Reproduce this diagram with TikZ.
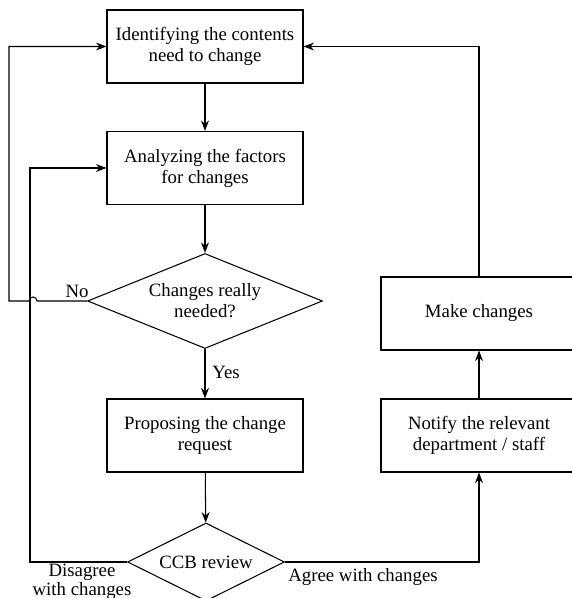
\documentclass[tikz,border=0pt]{standalone}
\usepackage{fontspec}
\setmainfont{Liberation Serif}
\usetikzlibrary{shapes.geometric, arrows.meta}
\tikzset{>={Stealth[length=6pt, width=4.5pt]}}
\tikzset{
    box/.style={draw, minimum width=3.92cm, minimum height=1.46cm, align=center, inner sep=0pt},
    decision/.style={draw, diamond, aspect=2.4, align=center, inner sep=0pt}
}

\begin{document}
\begin{tikzpicture}[x=0.02cm, y=0.02cm, line width=0.6pt, font=\fontsize{10.7}{12}\selectfont]
    \useasboundingbox (0,0) rectangle (571,598);
    % main column
    \node[box] (ident) at (205,551.5) {Identifying the contents\\need to change};
    \node[box] (analyze) at (205,430) {Analyzing the factors\\for changes};
    \node[decision, minimum width=4.7cm, minimum height=1.9cm] (needed) at (205,297) {Changes really\\needed?};
    \node[box] (propose) at (205,162.5) {Proposing the change\\request};
    \node[decision, minimum width=3.14cm, minimum height=1.56cm] (ccb) at (206,36) {CCB review};
    % right column
    \node[box] (make) at (479,284.5) {Make changes};
    \node[box] (notify) at (479,162.5) {Notify the relevant\\department / staff};
    % labels
    \node (no) at (77,307) {No};
    \node[anchor=west] (yes) at (206,226) {Yes};
    \node[align=center, inner sep=0pt, font=\fontsize{10.7}{10.5}\selectfont] (disagree) at (82,16) {Disagree\\with changes};
    \node (agree) at (363,21) {Agree with changes};
    % flow
    \draw[->] (ident) -- (analyze);
    \draw[->] (analyze) -- (needed);
    \draw[->] (needed) -- (propose);
    \draw[->] (propose) -- (ccb);
    \draw[->] (ccb.east) -| (notify.south);
    \draw[->] (notify) -- (make);
    \draw[->] (make.north) |- (ident.east);
    \coordinate (hop) at (30,297);
    \draw[->] (needed.west) -- ([xshift=4]hop) arc[start angle=0, end angle=180, radius=4] -- (9,297) |- (ident.west);
    \draw[->] (ccb.west) -- (30,36) |- (analyze.west);
\end{tikzpicture}
\end{document}
